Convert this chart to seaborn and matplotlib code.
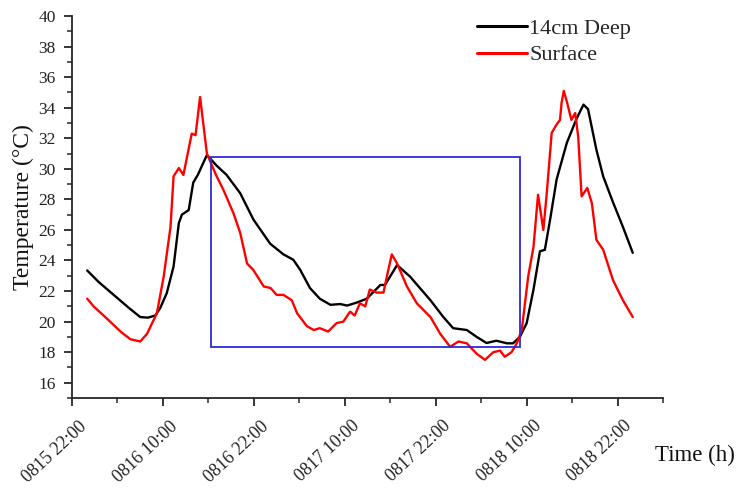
import numpy as np
import pandas as pd
import matplotlib
matplotlib.use("Agg")
import matplotlib.pyplot as plt
import matplotlib.transforms as mtransforms
import seaborn as sns
from matplotlib.patches import Rectangle
from matplotlib.ticker import MultipleLocator

# Hours since 0815 22:00
deep_hours = [2.0, 3.5, 5.5, 7.5, 9.0, 10.0, 11.0, 11.65, 12.5, 13.4, 14.1, 14.5, 15.4, 16.0, 16.6,
              17.8, 19.1, 20.4, 22.2, 23.95, 26.15, 27.9, 29.2, 30.1, 31.4, 32.7, 34.1, 35.4, 36.3,
              37.6, 38.9, 40.7, 41.3, 42.9, 44.6, 47.3, 49.0, 50.3, 52.1, 53.4, 54.7, 56.0, 57.4,
              58.2, 59.1, 60.0, 60.9, 61.75, 62.4, 63.1, 63.95, 65.3, 66.6, 67.5, 68.1, 69.2, 70.1,
              71.4, 72.7, 74.0]
deep_temp = [23.35, 22.6, 21.75, 20.9, 20.3, 20.26, 20.4, 20.9, 21.86, 23.6, 26.45, 27.0, 27.3, 29.1, 29.6,
             30.9, 30.2, 29.6, 28.4, 26.67, 25.1, 24.4, 24.05, 23.4, 22.2, 21.5, 21.1, 21.15, 21.05,
             21.25, 21.5, 22.4, 22.4, 23.7, 22.95, 21.4, 20.3, 19.57, 19.45, 19.0, 18.6, 18.75, 18.58,
             18.58, 19.0, 19.9, 22.1, 24.6, 24.7, 26.7, 29.3, 31.7, 33.3, 34.2, 33.9, 31.25, 29.5,
             27.8, 26.2, 24.5]

surf_hours = [2.0, 2.85, 4.6, 6.4, 7.7, 9.0, 9.9, 11.2, 12.1, 13.0, 13.4, 14.1, 14.7, 15.8, 16.3,
              16.9, 17.8, 19.0, 20.0, 21.3, 22.2, 23.1, 23.9, 25.3, 26.2, 27.0, 27.9, 29.0, 29.7,
              31.0, 31.9, 32.7, 33.8, 34.9, 35.8, 36.7, 37.3, 38.0, 38.7, 39.3, 40.2, 41.1, 41.75,
              42.2, 42.9, 44.2, 45.5, 47.3, 48.6, 49.9, 51.0, 52.1, 53.4, 54.5, 55.6, 56.5, 57.1,
              58.0, 58.7, 59.35, 60.2, 60.9, 61.5, 62.2, 62.65, 63.3, 63.95, 64.4, 64.6, 64.9, 65.3,
              65.9, 66.4, 66.8, 67.25, 68.0, 68.6, 69.2, 70.1, 71.4, 72.7, 74.0]
surf_temp = [21.5, 21.0, 20.2, 19.35, 18.85, 18.7, 19.2, 20.55, 22.95, 26.2, 29.5, 30.05, 29.6, 32.3, 32.2,
             34.7, 31.0, 29.6, 28.6, 27.1, 25.8, 23.8, 23.4, 22.3, 22.2, 21.75, 21.75, 21.4, 20.55,
             19.7, 19.45, 19.57, 19.35, 19.9, 20.0, 20.65, 20.4, 21.2, 21.0, 22.1, 21.9, 21.9, 23.4,
             24.4, 23.8, 22.3, 21.2, 20.3, 19.2, 18.35, 18.7, 18.58, 17.9, 17.5, 18.0, 18.1, 17.7,
             18.0, 18.58, 19.45, 22.95, 24.9, 28.3, 26.0, 28.4, 32.35, 32.9, 33.2, 34.3, 35.1, 34.4,
             33.2, 33.65, 32.1, 28.2, 28.75, 27.75, 25.35, 24.7, 22.7, 21.4, 20.3]

series_names = ["14cm Deep", "Surface"]
tick_hours = [0, 12, 24, 36, 48, 60, 72]
tick_labels = ["0815 22:00", "0816 10:00", "0816 22:00", "0817 10:00", "0817 22:00", "0818 10:00", "0818 22:00"]
box_x0, box_x1 = 18.4, 59.1
box_y0, box_y1 = 18.35, 30.75

df = pd.concat([
    pd.DataFrame({"hours": deep_hours, "temp": deep_temp, "series": series_names[0]}),
    pd.DataFrame({"hours": surf_hours, "temp": surf_temp, "series": series_names[1]}),
], ignore_index=True)

sns.set_style("ticks")
plt.rcParams["font.family"] = ["Liberation Serif", "DejaVu Serif"]

fig = plt.figure(figsize=(7.37, 4.92), dpi=100)
ax = fig.add_axes([0.0977, 0.191, 0.802, 0.7765])

sns.lineplot(data=df, x="hours", y="temp", hue="series", hue_order=series_names,
             palette=["black", "red"], linewidth=1.7, sort=False, estimator=None, ax=ax)

ax.add_patch(Rectangle((box_x0, box_y0), box_x1 - box_x0, box_y1 - box_y0,
                       fill=False, edgecolor="#2b2bd8", linewidth=1.3, zorder=3))

ax.set_xlim(0, 78)
ax.set_ylim(15, 40)
ax.set_yticks(np.arange(16, 41, 2))
ax.yaxis.set_minor_locator(MultipleLocator(1))
ax.xaxis.set_minor_locator(MultipleLocator(6))
ax.set_xticks(tick_hours)
ax.tick_params(axis="y", labelsize=12.5, pad=6, labelcolor="#222222")
ax.tick_params(which="major", direction="out", length=5.8, width=1.3)
ax.tick_params(which="minor", direction="out", length=3.6, width=1.1)
ax.set_xticklabels(tick_labels, rotation=43, ha="right", va="center",
                   rotation_mode="anchor", fontsize=13, color="#222222")
offset = mtransforms.ScaledTranslation(0.12, -0.13, fig.dpi_scale_trans)
for lab in ax.get_xticklabels():
    lab.set_transform(lab.get_transform() + offset)
for s in ["top", "right"]:
    ax.spines[s].set_visible(False)
for s in ["left", "bottom"]:
    ax.spines[s].set_linewidth(1.3)

ax.set_ylabel("")
ax.set_xlabel("")
fig.text(23 / 737, 1 - 207 / 492, "Temperature (\u00b0C)", fontsize=17, rotation=90,
         ha="center", va="center", color="#111111")
fig.text(655 / 737, 1 - 455 / 492, "Time (h)", fontsize=16.5, ha="left", va="center",
         color="#111111")

leg = ax.legend(loc="upper left", bbox_to_anchor=(0.685, 0.993), frameon=False, fontsize=16,
                handlelength=2.25, handletextpad=0.1, labelspacing=0.25, borderpad=0,
                borderaxespad=0)
for line in leg.get_lines():
    line.set_linewidth(2.2)

fig.savefig("out.png", dpi=100)
